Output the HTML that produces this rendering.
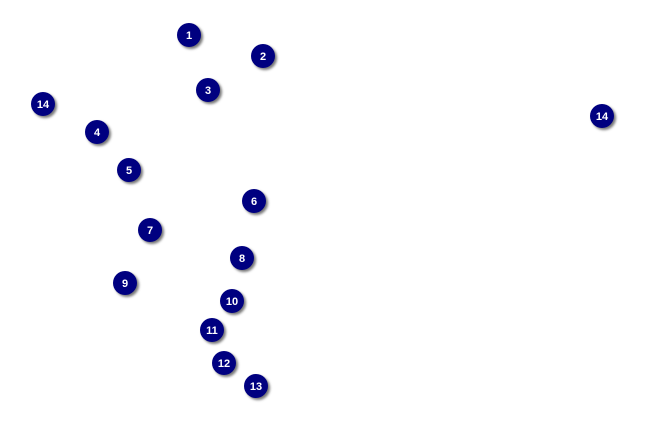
<!DOCTYPE html>
<html><head><meta charset="utf-8"><style>
html,body{margin:0;padding:0;background:#fff;}
svg{display:block}
text{font-family:"Liberation Sans",Arial,sans-serif;font-weight:bold;font-size:11px;fill:#fff;text-anchor:middle}
.s{fill:#777;filter:url(#b)}
.c{fill:#000080}
</style></head><body>
<svg width="650" height="425" viewBox="0 0 650 425" xmlns="http://www.w3.org/2000/svg">
<defs><filter id="b" x="-50%" y="-50%" width="200%" height="200%"><feGaussianBlur stdDeviation="1.2"/></filter></defs>
<circle class="s" cx="191" cy="37" r="12"/><circle class="c" cx="189" cy="35" r="12"/><text x="189" y="39">1</text>
<circle class="s" cx="265" cy="58" r="12"/><circle class="c" cx="263" cy="56" r="12"/><text x="263" y="60">2</text>
<circle class="s" cx="210" cy="92" r="12"/><circle class="c" cx="208" cy="90" r="12"/><text x="208" y="94">3</text>
<circle class="s" cx="45" cy="106" r="12"/><circle class="c" cx="43" cy="104" r="12"/><text x="43" y="108">14</text>
<circle class="s" cx="99" cy="134" r="12"/><circle class="c" cx="97" cy="132" r="12"/><text x="97" y="136">4</text>
<circle class="s" cx="131" cy="172" r="12"/><circle class="c" cx="129" cy="170" r="12"/><text x="129" y="174">5</text>
<circle class="s" cx="256" cy="203" r="12"/><circle class="c" cx="254" cy="201" r="12"/><text x="254" y="205">6</text>
<circle class="s" cx="152" cy="232" r="12"/><circle class="c" cx="150" cy="230" r="12"/><text x="150" y="234">7</text>
<circle class="s" cx="244" cy="260" r="12"/><circle class="c" cx="242" cy="258" r="12"/><text x="242" y="262">8</text>
<circle class="s" cx="127" cy="285" r="12"/><circle class="c" cx="125" cy="283" r="12"/><text x="125" y="287">9</text>
<circle class="s" cx="234" cy="303" r="12"/><circle class="c" cx="232" cy="301" r="12"/><text x="232" y="305">10</text>
<circle class="s" cx="214" cy="332" r="12"/><circle class="c" cx="212" cy="330" r="12"/><text x="212" y="334">11</text>
<circle class="s" cx="226" cy="365" r="12"/><circle class="c" cx="224" cy="363" r="12"/><text x="224" y="367">12</text>
<circle class="s" cx="258" cy="388" r="12"/><circle class="c" cx="256" cy="386" r="12"/><text x="256" y="390">13</text>
<circle class="s" cx="604" cy="118" r="12"/><circle class="c" cx="602" cy="116" r="12"/><text x="602" y="120">14</text>
</svg>
</body></html>
